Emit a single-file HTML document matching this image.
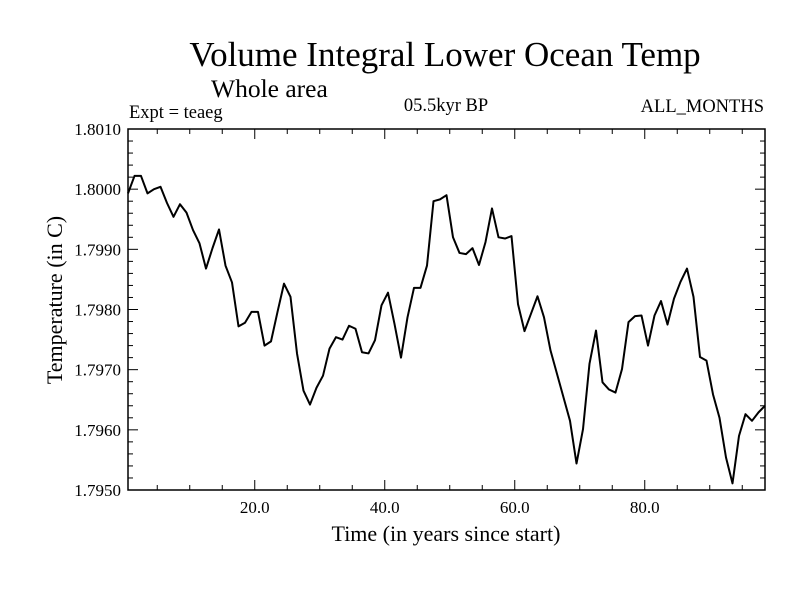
<!DOCTYPE html>
<html><head><meta charset="utf-8"><style>
body{margin:0;background:#fff;}
svg text{font-family:"Liberation Serif",serif;fill:#000;}
</style></head><body>
<svg id="chart" width="800" height="600" xmlns="http://www.w3.org/2000/svg">
<text x="445" y="66" font-size="35" text-anchor="middle">Volume Integral Lower Ocean Temp</text>
<text x="211" y="97" font-size="25.5">Whole area</text>
<text x="129" y="118" font-size="18.5">Expt = teaeg</text>
<text x="446" y="111" font-size="18.5" text-anchor="middle">05.5kyr BP</text>
<text x="764" y="112" font-size="18.5" text-anchor="end">ALL_MONTHS</text>
<text x="446" y="541" font-size="22" text-anchor="middle">Time (in years since start)</text>
<text transform="translate(62,300) rotate(-90)" font-size="22" text-anchor="middle">Temperature (in C)</text>
<g id="axes"></g>
<rect x="128" y="129" width="637" height="361" fill="none" stroke="#000" stroke-width="1.5"/>
<polyline id="series" fill="none" stroke="#000" stroke-width="2" stroke-linejoin="round"/>
</svg>
<script>
const yearOffset = 0.5;
const temps = [1.79993,1.80022,1.80022,1.79993,1.80000,1.80004,1.79977,1.79954,1.79975,1.79961,
1.79932,1.79910,1.79868,1.79902,1.79933,1.79873,1.79845,1.79772,1.79778,1.79796,
1.79796,1.79740,1.79747,1.79796,1.79843,1.79821,1.79727,1.79665,1.79642,1.79670,
1.79690,1.79735,1.79754,1.79750,1.79773,1.79768,1.79729,1.79727,1.79749,1.79807,
1.79828,1.79776,1.79720,1.79787,1.79836,1.79836,1.79873,1.79980,1.79983,1.79990,
1.79920,1.79894,1.79892,1.79902,1.79874,1.79912,1.79968,1.79920,1.79918,1.79922,
1.79809,1.79764,1.79793,1.79822,1.79787,1.79732,1.79693,1.79654,1.79615,1.79544,
1.79601,1.79710,1.79765,1.79679,1.79667,1.79662,1.79701,1.79779,1.79789,1.79790,
1.79740,1.79790,1.79814,1.79775,1.79818,1.79846,1.79868,1.79821,1.79721,1.79715,
1.79659,1.79620,1.79554,1.79511,1.79590,1.79626,1.79615,1.79629,1.79640];
const xTicks = [20,40,60,80];
const xTickLabels = ["20.0","40.0","60.0","80.0"];
const yTicks = [1.7950,1.7960,1.7970,1.7980,1.7990,1.8000,1.8010];
const yTickLabels = ["1.7950","1.7960","1.7970","1.7980","1.7990","1.8000","1.8010"];
const X0=128,X1=765,Y0=129,Y1=490,XMIN=0.5,XMAX=98.5,YMIN=1.7950,YMAX=1.8010;
const sx=v=>X0+(v-XMIN)/(XMAX-XMIN)*(X1-X0);
const sy=v=>Y1-(v-YMIN)/(YMAX-YMIN)*(Y1-Y0);
const NS="http://www.w3.org/2000/svg";
const axes=document.getElementById('axes');
function line(x1,y1,x2,y2,name){const l=document.createElementNS(NS,'line');
l.setAttribute('x1',x1);l.setAttribute('y1',y1);l.setAttribute('x2',x2);l.setAttribute('y2',y2);
l.setAttribute('stroke','#000');l.setAttribute('stroke-width','1');


axes.appendChild(l);}
function text(x,y,s,anchor,name){const t=document.createElementNS(NS,'text');
t.setAttribute('x',x);t.setAttribute('y',y);t.setAttribute('font-size','17');t.setAttribute('text-anchor',anchor);t.textContent=s;


axes.appendChild(t);}
for(let v=5;v<XMAX;v+=5){const x=sx(v);const len=(v%20===0)?10:5;
line(x,Y1,x,Y1-len,'x-tick');line(x,Y0,x,Y0+len,'x-tick-top');}
xTicks.forEach((v,i)=>text(sx(v),513,xTickLabels[i],'middle','x-tick-label'));
for(let k=0;k<=30;k++){const v=YMIN+k*0.0002;const y=sy(v);const len=(k%5===0)?10:5;
line(X0,y,X0+len,y,'y-tick');line(X1,y,X1-len,y,'y-tick-right');}
yTicks.forEach((v,i)=>text(121,sy(v)+6,yTickLabels[i],'end','y-tick-label'));
document.getElementById('series').setAttribute('points',temps.map((v,i)=>sx(i+yearOffset)+','+sy(v)).join(' '));
</script>
</body></html>
